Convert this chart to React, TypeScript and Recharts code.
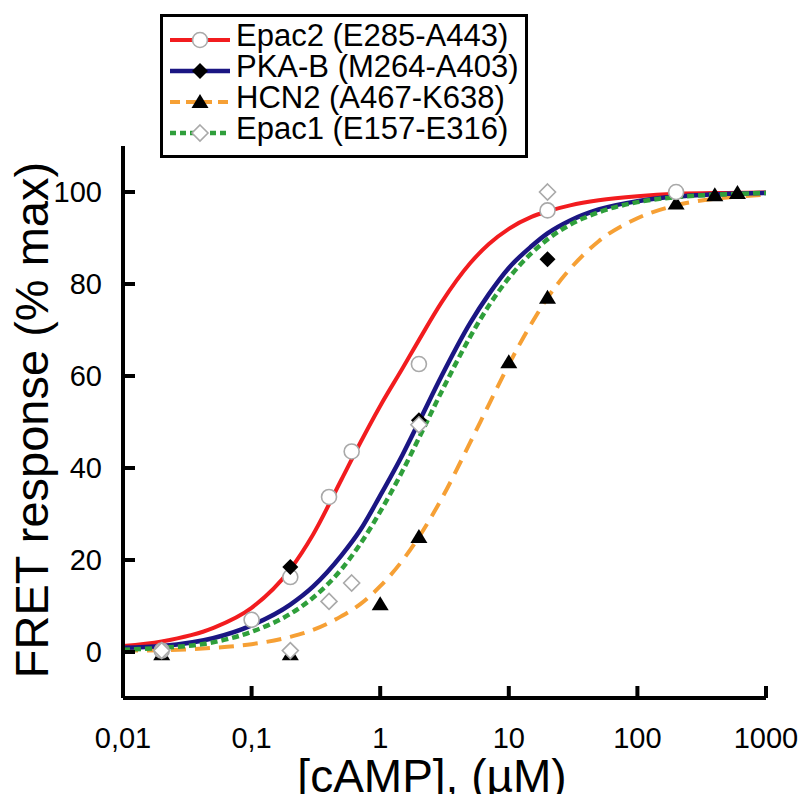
import React from "react";
import { ComposedChart, Line, Scatter, XAxis, YAxis, Legend, Label } from "recharts";

const FONT = '"Liberation Sans", Arial, Helvetica, sans-serif';

const CURVE_X = [0.01, 0.02, 0.05, 0.1, 0.2, 0.3, 0.5, 0.7, 1, 1.5, 2, 3, 5, 7, 10, 15, 20, 30, 50, 100, 200, 500, 1000];
const EPAC2_FIT = [1.3, 2.3, 5.2, 9.6, 18, 25.5, 37.5, 45.5, 53.5, 61.8, 67.8, 76, 84.5, 88.7, 92, 94.6, 95.8, 97.1, 98.2, 99.1, 99.6, 99.8, 99.9];
const PKA_FIT = [0.9, 1.3, 3, 5.8, 10.3, 14.2, 21, 26.5, 34, 43, 50, 60, 71.5, 77.8, 83.5, 88.2, 91, 93.8, 96.2, 98, 99, 99.6, 99.8];
const HCN2_FIT = [0.3, 0.4, 0.9, 1.7, 3.3, 4.8, 7.8, 10.4, 14.3, 20, 25, 33.3, 45.5, 53.8, 62.5, 71.4, 77, 83.3, 89.3, 94.3, 97.1, 98.8, 99.4];
const EPAC1_FIT = [0.5, 0.9, 2.1, 4.4, 8.3, 11.8, 18, 23.5, 30.5, 39.5, 46.5, 56.6, 68.5, 75.3, 81.3, 86.7, 89.7, 92.9, 95.6, 97.8, 98.9, 99.5, 99.8];

// measured points
const EPAC2_X = [0.02, 0.1, 0.2, 0.4, 0.6, 2, 20, 200];
const EPAC2_Y = [0.3, 7, 16.3, 33.7, 43.6, 62.6, 96, 100];
const PKA_X = [0.2, 2, 20];
const PKA_Y = [18.5, 50.4, 85.4];
const HCN2_X = [0.02, 0.2, 1, 2, 10, 20, 200, 400, 600];
const HCN2_Y = [-0.5, -0.5, 10.4, 25, 63, 77, 97.5, 99.3, 99.8];
const EPAC1_X = [0.02, 0.2, 0.4, 0.6, 2, 20];
const EPAC1_Y = [0.3, 0.3, 11, 15, 49.4, 100];

const X_TICKS = [0.01, 0.1, 1, 10, 100, 1000];
const X_TICK_LABELS = ["0,01", "0,1", "1", "10", "100", "1000"];
const Y_TICKS = [0, 20, 40, 60, 80, 100];

const zip = (xs: number[], ys: number[]) => xs.map((x, i) => ({ x, y: ys[i] }));

const RED = "#f21c1f";
const NAVY = "#1b1683";
const ORANGE = "#f6a035";
const GREEN = "#2f9f3b";
const GREY = "#a9a9a9";

const diamond = (cx: number, cy: number, r: number) =>
  `M${cx},${cy - r}L${cx + r},${cy}L${cx},${cy + r}L${cx - r},${cy}Z`;

const OpenCircle = (p: any) => (
  <circle cx={p.cx} cy={p.cy} r={7.5} fill="#fff" stroke={GREY} strokeWidth={1.6} />
);
const FilledDiamond = (p: any) => <path d={diamond(p.cx, p.cy, 8)} fill="#000" />;
const OpenDiamond = (p: any) => (
  <path d={diamond(p.cx, p.cy, 8)} fill="#fff" stroke={GREY} strokeWidth={1.6} />
);
const Triangle = (p: any) => (
  <path d={`M${p.cx},${p.cy - 8}L${p.cx + 8.5},${p.cy + 6}L${p.cx - 8.5},${p.cy + 6}Z`} fill="#000" />
);

const LEGEND_ROWS = [
  { label: "Epac2 (E285-A443)", color: RED, dash: undefined, width: 4, Marker: OpenCircle },
  { label: "PKA-B (M264-A403)", color: NAVY, dash: undefined, width: 4.5, Marker: FilledDiamond },
  { label: "HCN2 (A467-K638)", color: ORANGE, dash: "10 6", width: 4, Marker: Triangle },
  { label: "Epac1 (E157-E316)", color: GREEN, dash: "6 4", width: 4.5, Marker: OpenDiamond },
];

function LegendBox() {
  return (
    <div
      style={{
        width: 368,
        height: 144,
        boxSizing: "border-box",
        border: "3px solid #000",
        background: "#fff",
        padding: "3px 0 0 7px",
        fontFamily: FONT,
        fontSize: 31,
        lineHeight: "31px",
        color: "#000",
        whiteSpace: "nowrap",
      }}
    >
      {LEGEND_ROWS.map((r) => (
        <div key={r.label} style={{ display: "flex", height: 31 }}>
          <svg width={62} height={31} style={{ flex: "none" }}>
            <line x1={0} x2={60} y1={20} y2={20} stroke={r.color} strokeWidth={r.width} strokeDasharray={r.dash} />
            <r.Marker cx={30} cy={20} />
          </svg>
          <span style={{ marginLeft: 4 }}>{r.label}</span>
        </div>
      ))}
    </div>
  );
}

export default function App() {
  const tickStyle = { fill: "#000", fontSize: 29, fontFamily: FONT };
  return (
    <div style={{ position: "absolute", left: 0, top: 0, background: "#fff" }}>
      <ComposedChart width={803} height={794} margin={{ top: 146, right: 37, bottom: 0, left: 0 }}>
        <XAxis
          dataKey="x"
          type="number"
          scale="log"
          domain={[0.01, 1000]}
          allowDataOverflow
          ticks={X_TICKS}
          interval={0}
          height={96}
          tickFormatter={(v: number) => X_TICK_LABELS[X_TICKS.indexOf(v)] ?? String(v)}
          axisLine={{ stroke: "#000", strokeWidth: 4 }}
          tickLine={{ stroke: "#000", strokeWidth: 4 }}
          tickSize={-12}
          tickMargin={41}
          tick={tickStyle}
        >
          <Label
            content={() => (
              <text x={432} y={792} textAnchor="middle" fontSize={46} fontFamily={FONT} fill="#000">
                [cAMP], (µM)
              </text>
            )}
          />
        </XAxis>
        <YAxis
          dataKey="y"
          type="number"
          domain={[-10, 110]}
          allowDataOverflow
          ticks={Y_TICKS}
          interval={0}
          width={123}
          axisLine={{ stroke: "#000", strokeWidth: 4 }}
          tickLine={{ stroke: "#000", strokeWidth: 4 }}
          tickSize={-12}
          tickMargin={33}
          tick={tickStyle}
        >
          <Label
            content={() => (
              <text
                x={48}
                y={420}
                transform="rotate(-90 48 420)"
                textAnchor="middle"
                fontSize={47}
                fontFamily={FONT}
                fill="#000"
              >
                FRET response (% max)
              </text>
            )}
          />
        </YAxis>

        <Line data={zip(CURVE_X, HCN2_FIT)} dataKey="y" type="monotone" stroke={ORANGE} strokeWidth={4}
          strokeDasharray="15 9" dot={false} activeDot={false} isAnimationActive={false} />
        <Line data={zip(CURVE_X, EPAC2_FIT)} dataKey="y" type="monotone" stroke={RED} strokeWidth={4}
          dot={false} activeDot={false} isAnimationActive={false} />
        <Line data={zip(CURVE_X, PKA_FIT)} dataKey="y" type="monotone" stroke={NAVY} strokeWidth={4.5}
          dot={false} activeDot={false} isAnimationActive={false} />
        <Line data={zip(CURVE_X, EPAC1_FIT)} dataKey="y" type="monotone" stroke={GREEN} strokeWidth={4.5}
          strokeDasharray="7 4" dot={false} activeDot={false} isAnimationActive={false} />

        <Scatter data={zip(HCN2_X, HCN2_Y)} dataKey="y" shape={Triangle} isAnimationActive={false} />
        <Scatter data={zip(EPAC2_X, EPAC2_Y)} dataKey="y" shape={OpenCircle} isAnimationActive={false} />
        <Scatter data={zip(PKA_X, PKA_Y)} dataKey="y" shape={FilledDiamond} isAnimationActive={false} />
        <Scatter data={zip(EPAC1_X, EPAC1_Y)} dataKey="y" shape={OpenDiamond} isAnimationActive={false} />

        <Legend
          layout="horizontal"
          verticalAlign="middle"
          align="center"
          wrapperStyle={{ left: 160, top: 14, width: 368 }}
          content={() => <LegendBox />}
        />
      </ComposedChart>
    </div>
  );
}
